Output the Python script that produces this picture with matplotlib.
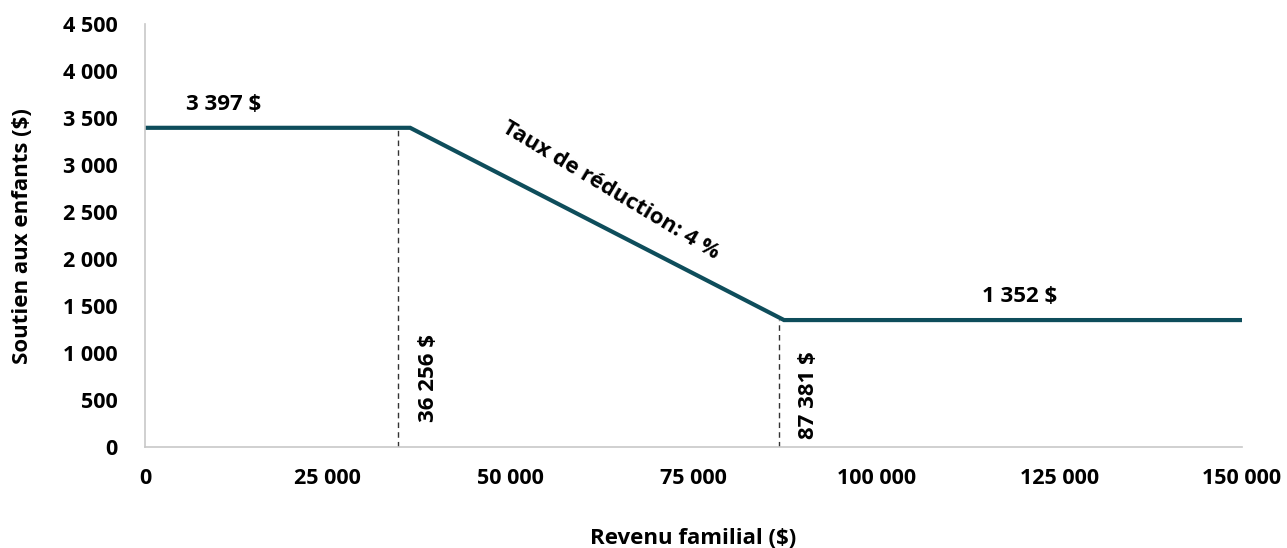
import matplotlib
matplotlib.use("Agg")
import matplotlib.pyplot as plt
from matplotlib.ticker import FuncFormatter

plt.rcParams['font.family'] = ['Open Sans', 'DejaVu Sans']
plt.rcParams['font.weight'] = 'bold'

# benefit schedule
revenu = [0, 36256, 87381, 150000]
soutien = [3397, 3397, 1352, 1352]

# guide lines as drawn in the original
seuils = [34600, 86700]
seuil_haut = [3397, 1352]

x_ticks = [0, 25000, 50000, 75000, 100000, 125000, 150000]
y_ticks = [0, 500, 1000, 1500, 2000, 2500, 3000, 3500, 4000, 4500]

teal = '#0e4d5b'


def fmt(v, pos=None):
    return f"{int(v):,}".replace(',', ' ')


fig = plt.figure(figsize=(12.87, 5.48), dpi=100)
ax = fig.add_axes([0.1127, 0.184, 0.8523, 0.772])

ax.plot(revenu, soutien, color=teal, linewidth=3, solid_joinstyle='miter')
for s, h in zip(seuils, seuil_haut):
    ax.plot([s, s], [0, h], color='#333333', linewidth=1, linestyle=(0, (4, 3)))

ax.set_xlim(0, 150000)
ax.set_ylim(0, 4500)
ax.set_xticks(x_ticks)
ax.set_yticks(y_ticks)
ax.xaxis.set_major_formatter(FuncFormatter(fmt))
ax.yaxis.set_major_formatter(FuncFormatter(fmt))
ax.tick_params(axis='both', length=0, labelsize=15.5)
ax.tick_params(axis='x', pad=15)
ax.tick_params(axis='y', pad=19.5)

for side in ['top', 'right']:
    ax.spines[side].set_visible(False)
for side in ['left', 'bottom']:
    ax.spines[side].set_color('#c8c8c8')
    ax.spines[side].set_linewidth(1.2)

ax.set_xlabel('Revenu familial ($)', fontsize=16, fontweight='bold', labelpad=28)
ax.set_ylabel('Soutien aux enfants ($)', fontsize=16, fontweight='bold', labelpad=22)

ax.text(10800, 3650, fmt(soutien[0]) + ' $', fontsize=16, ha='center', va='center')
ax.text(119600, 1606, fmt(soutien[-1]) + ' $', fontsize=16, ha='center', va='center')
ax.text(38700, 734, fmt(revenu[1]) + ' $', fontsize=16, ha='center', va='center', rotation=90)
ax.text(90660, 553, fmt(revenu[2]) + ' $', fontsize=16, ha='center', va='center', rotation=90)
ax.text(63700, 2734, 'Taux de réduction: 4 %', fontsize=16, ha='center', va='center', rotation=-31)

fig.savefig('out.png', dpi=100)
